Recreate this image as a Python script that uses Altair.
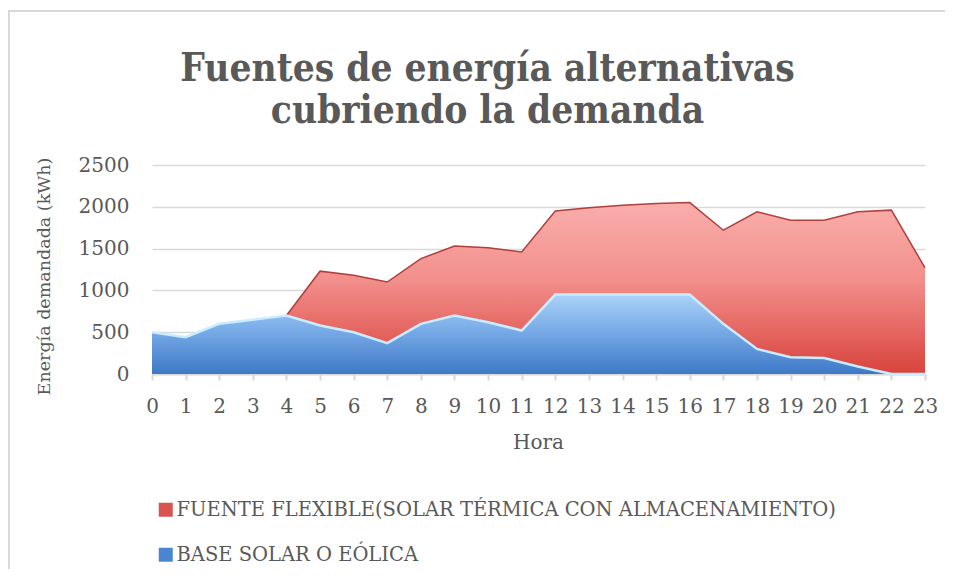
import altair as alt
import pandas as pd

# ---- data ----
hours = list(range(24))
base_vals = [500, 440, 600, 650, 700, 580, 500, 370, 600, 700, 620, 520,
             950, 950, 950, 950, 950, 600, 300, 200, 190, 90, 0, 0]
flex_vals = [0, 0, 0, 0, 0, 650, 680, 730, 780, 830, 890, 940,
             1000, 1040, 1070, 1090, 1100, 1120, 1640, 1640, 1650, 1850, 1960, 1270]
series_names = ["FUENTE FLEXIBLE(SOLAR TÉRMICA CON ALMACENAMIENTO)", "BASE SOLAR O EÓLICA"]
series_colors = ["#d9534f", "#4a86d0"]
y_ticks = [0, 500, 1000, 1500, 2000, 2500]
title_lines = ["Fuentes de energía alternativas", "cubriendo la demanda"]

rows = []
for h, b, f in zip(hours, base_vals, flex_vals):
    rows.append({"hora": h, "serie": series_names[0], "lo": b, "hi": b + f})
    rows.append({"hora": h, "serie": series_names[1], "lo": 0, "hi": b})
df = pd.DataFrame(rows)

TEXT = "#595959"
GRID = "#d9d9d9"
FONT = "DejaVu Serif"

x_enc = alt.X("hora:Q",
              scale=alt.Scale(domain=[0, 23], nice=False, zero=False),
              axis=alt.Axis(values=hours, format="d", title="Hora", grid=False,
                            domainColor=GRID, domainWidth=2, tickColor=GRID, tickWidth=2,
                            tickSize=6, labelPadding=16, labelFontSize=20, labelColor=TEXT,
                            labelFont=FONT, titleFont=FONT, titleFontSize=20, titleColor=TEXT,
                            titleFontWeight="normal", titleX=386, titleY=68,
                            titleBaseline="middle", labelFlush=False, labelOverlap=False))
y_enc = alt.Y("hi:Q", stack=None,
              scale=alt.Scale(domain=[0, 2500], nice=False),
              axis=alt.Axis(values=y_ticks, format="d", title="Energía demandada (kWh)",
                            domain=False, ticks=False, gridColor=GRID, gridWidth=1.5,
                            labelPadding=23, labelFontSize=20, labelColor=TEXT, labelFont=FONT,
                            titleFont=FONT, titleFontSize=17.5, titleColor=TEXT,
                            titleFontWeight="normal", titleX=-108, titleY=111,
                            titleAngle=-90, titleAlign="center", titleBaseline="middle"))

base = alt.Chart(df)

legend_layer = base.mark_area(interpolate="linear").encode(
    x=x_enc, y=y_enc, y2="lo:Q",
    color=alt.Color("serie:N", scale=alt.Scale(domain=series_names, range=series_colors),
                    legend=alt.Legend(title=None, orient="none", legendX=4, legendY=335,
                                      direction="vertical", symbolType="square",
                                      symbolSize=196, symbolStrokeWidth=0, padding=0,
                                      labelFont=FONT, labelFontSize=19.5, labelColor=TEXT,
                                      labelLimit=1000, labelOffset=1, rowPadding=24)),
    order=alt.Order("serie:N"),
)

red_grad = alt.Gradient(gradient="linear", x1=0, y1=0, x2=0, y2=1, stops=[
    alt.GradientStop(color="#f9aeac", offset=0),
    alt.GradientStop(color="#f28f8c", offset=0.45),
    alt.GradientStop(color="#d9433d", offset=1)])
blue_grad = alt.Gradient(gradient="linear", x1=0, y1=0, x2=0, y2=1, stops=[
    alt.GradientStop(color="#acd3f8", offset=0),
    alt.GradientStop(color="#78abe7", offset=0.45),
    alt.GradientStop(color="#3d79c6", offset=1)])

red_area = base.mark_area(interpolate="linear", color=red_grad).encode(
    x=x_enc, y=y_enc, y2="lo:Q").transform_filter(alt.datum.serie == series_names[0])
blue_area = base.mark_area(interpolate="linear", color=blue_grad).encode(
    x=x_enc, y=y_enc, y2="lo:Q").transform_filter(alt.datum.serie == series_names[1])

red_line = base.mark_line(color="#b0403c", strokeWidth=1.5).encode(
    x=x_enc, y=y_enc).transform_filter(
    (alt.datum.serie == series_names[0]) & (alt.datum.hora >= 4))
blue_line = base.mark_line(color="#c9ecff", strokeWidth=2.5).encode(
    x=x_enc, y=y_enc).transform_filter(alt.datum.serie == series_names[1])

frame_df = pd.DataFrame({"k": [0]})
border_top = alt.Chart(frame_df).mark_rule(color=GRID, strokeWidth=2).encode(
    x=alt.value(-143), x2=alt.value(1000), y=alt.value(-154))
border_left = alt.Chart(frame_df).mark_rule(color=GRID, strokeWidth=2).encode(
    x=alt.value(-143), y=alt.value(-155), y2=alt.value(600))

chart = alt.layer(legend_layer, red_area, blue_area, red_line, blue_line,
                  border_top, border_left).properties(
    width=773, height=209,
    autosize=alt.AutoSizeParams(type="none"),
    padding={"left": 144, "top": 157, "right": 20, "bottom": 195},
    title=alt.TitleParams(text=title_lines, font="DejaVu Serif Condensed", fontSize=38.5,
                          fontWeight="bold", color=TEXT, anchor="middle", dx=-51,
                          offset=-122, lineHeight=42),
).configure_view(stroke=None)

chart.save("out.html", embed_options={"renderer": "svg", "actions": False})
